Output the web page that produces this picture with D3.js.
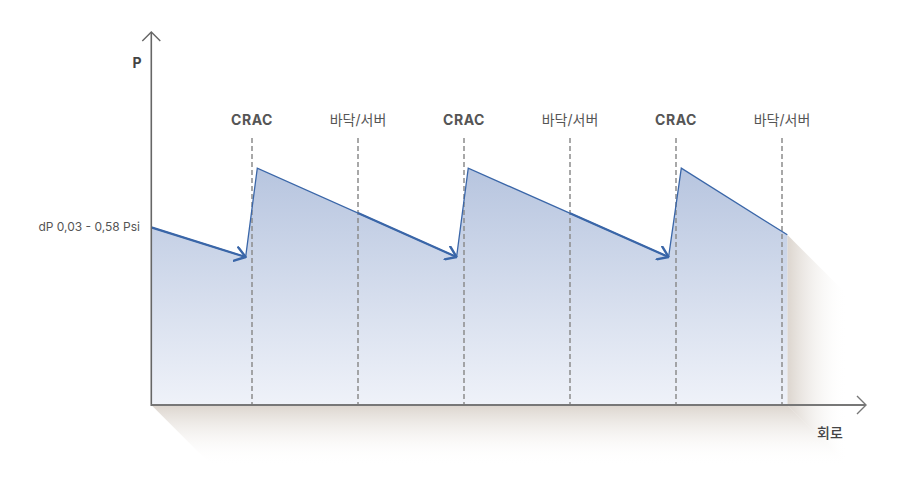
<!DOCTYPE html>
<html>
<head>
<meta charset="utf-8">
<script src="https://cdn.jsdelivr.net/npm/d3@7"></script>
<style>
  html, body { margin: 0; padding: 0; background: #fff; }
  svg { display: block; font-family: Inter, "Noto Sans CJK KR", sans-serif; }
</style>
</head>
<body>
<div id="chart"></div>
<script>
// position along the circuit (dashed marker = 1 unit), pressure (0..1 of axis)
const markerPos = [1, 2, 3, 4, 5, 6];
const markerLabels = ["CRAC", "바닥/서버", "CRAC", "바닥/서버", "CRAC", "바닥/서버"];

const profileX = [0.05, 0.94, 1.05, 2.93, 3.04, 4.93, 5.05, 6.05];
const profileP = [0.48, 0.40, 0.64, 0.40, 0.64, 0.40, 0.64, 0.46];

// arrows: [start index in profile, arrow start position]
const arrowFrom = [0, 2, 4];
const arrowStartX = [0.05, 2, 4];

const yLabel = "P";
const xLabel = "회로";
const rangeLabel = "dP 0,03 - 0,58 Psi";

const width = 900, height = 477;
const x = d3.scaleLinear().domain([0, 1]).range([146, 252]);
const y = d3.scaleLinear().domain([0, 1]).range([405, 35]);
const x0 = x(0.05), yBase = y(0);
const shadowLen = 60;

const svg = d3.select("#chart").append("svg")
  .attr("width", width).attr("height", height)
  .attr("viewBox", `0 0 ${width} ${height}`);

const defs = svg.append("defs");
const areaGrad = defs.append("linearGradient").attr("id", "areaGrad")
  .attr("x1", 0).attr("y1", 0).attr("x2", 0).attr("y2", 1);
areaGrad.append("stop").attr("offset", 0).attr("stop-color", "#b7c5df");
areaGrad.append("stop").attr("offset", 1).attr("stop-color", "#eff2f9");

const shV = defs.append("linearGradient").attr("id", "shV")
  .attr("x1", 0).attr("y1", 0).attr("x2", 0).attr("y2", 1);
shV.append("stop").attr("offset", 0).attr("stop-color", "#dcd5ce");
shV.append("stop").attr("offset", 1).attr("stop-color", "#ffffff").attr("stop-opacity", 0);
const shH = defs.append("linearGradient").attr("id", "shH")
  .attr("x1", 0).attr("y1", 0).attr("x2", 1).attr("y2", 0);
shH.append("stop").attr("offset", 0).attr("stop-color", "#dcd5ce");
shH.append("stop").attr("offset", 1).attr("stop-color", "#ffffff").attr("stop-opacity", 0);

defs.append("marker").attr("id", "head")
  .attr("markerUnits", "userSpaceOnUse")
  .attr("viewBox", "0 0 12 16").attr("refX", 11).attr("refY", 8)
  .attr("markerWidth", 12).attr("markerHeight", 16).attr("orient", "auto")
  .append("path").attr("d", "M1,1 L11,8 L1,15")
  .attr("fill", "none").attr("stroke", "#3a66a8").attr("stroke-width", 2.4)
  .attr("stroke-linecap", "round").attr("stroke-linejoin", "round");

const pts = profileX.map((d, i) => [d, profileP[i]]);
const last = pts[pts.length - 1];
const xEnd = x(last[0]), yEnd = y(last[1]);

// long shadow
svg.append("path")
  .attr("d", `M${x0},${yBase} L${xEnd},${yBase} L${xEnd + shadowLen},${yBase + shadowLen} L${x0 + shadowLen},${yBase + shadowLen} Z`)
  .attr("fill", "url(#shV)");
svg.append("path")
  .attr("d", `M${xEnd},${yEnd} L${xEnd + shadowLen},${yEnd + shadowLen} L${xEnd + shadowLen},${yBase + shadowLen} L${xEnd},${yBase} Z`)
  .attr("fill", "url(#shH)");

// area
const area = d3.area().x(d => x(d[0])).y0(yBase).y1(d => y(d[1]));
svg.append("path").datum(pts).attr("d", area).attr("fill", "url(#areaGrad)");

// dashed markers
svg.append("g").selectAll("line").data(markerPos).join("line")
  .attr("x1", d => x(d)).attr("x2", d => x(d))
  .attr("y1", 138).attr("y2", yBase)
  .attr("stroke", "#8c8c8c").attr("stroke-width", 1.5)
  .attr("stroke-dasharray", "5,3");

svg.append("g").selectAll("text").data(markerPos).join("text")
  .attr("x", d => x(d)).attr("y", 125)
  .attr("text-anchor", "middle")
  .attr("font-size", 14)
  .attr("letter-spacing", (d, i) => markerLabels[i] === "CRAC" ? 0.5 : 0)
  .attr("font-weight", (d, i) => markerLabels[i] === "CRAC" ? 700 : 400)
  .attr("fill", "#555")
  .text((d, i) => markerLabels[i]);

// top edge
svg.append("path").datum(pts)
  .attr("d", d3.line().x(d => x(d[0])).y(d => y(d[1])))
  .attr("fill", "none").attr("stroke", "#3a66a8").attr("stroke-width", 1.3);

// arrows
const arrows = arrowFrom.map((k, i) => {
  const a = pts[k], b = pts[k + 1];
  const t = (arrowStartX[i] - a[0]) / (b[0] - a[0]);
  return [[arrowStartX[i], a[1] + t * (b[1] - a[1])], b];
});
svg.append("g").selectAll("path").data(arrows).join("path")
  .attr("d", d3.line().x(d => x(d[0])).y(d => y(d[1])))
  .attr("fill", "none").attr("stroke", "#3a66a8").attr("stroke-width", 2.2)
  .attr("marker-end", "url(#head)");

// axes
const axisColor = "#666";
svg.append("line").attr("x1", x0).attr("x2", x0).attr("y1", yBase + 1).attr("y2", 33)
  .attr("stroke", axisColor).attr("stroke-width", 1.6);
svg.append("path").attr("d", `M${x0 - 9},${41} L${x0},${32} L${x0 + 9},${41}`)
  .attr("fill", "none").attr("stroke", axisColor).attr("stroke-width", 1.4);
svg.append("line").attr("x1", x0).attr("x2", 865).attr("y1", yBase).attr("y2", yBase)
  .attr("stroke", "#777").attr("stroke-width", 2);
svg.append("path").attr("d", `M857,${yBase - 9} L866,${yBase} L857,${yBase + 9}`)
  .attr("fill", "none").attr("stroke", "#777").attr("stroke-width", 1.4);

svg.append("text").attr("x", 137).attr("y", 68).attr("text-anchor", "middle")
  .attr("font-size", 14).attr("font-weight", 700).attr("fill", "#444").text(yLabel);
svg.append("text").attr("x", 830).attr("y", 438).attr("text-anchor", "middle")
  .attr("font-size", 14).attr("font-weight", 500).attr("fill", "#444").text(xLabel);
svg.append("text").attr("x", 140).attr("y", 231).attr("text-anchor", "end")
  .attr("font-size", 12).attr("fill", "#555").text(rangeLabel);
</script>
</body>
</html>
